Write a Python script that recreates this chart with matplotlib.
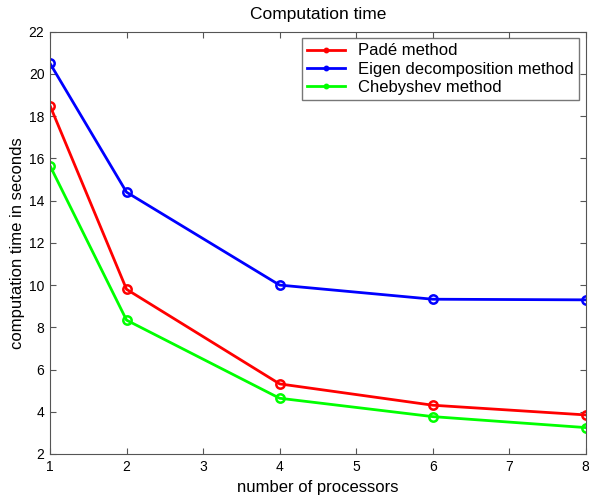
import matplotlib
matplotlib.use("Agg")
import matplotlib.pyplot as plt

plt.rcParams['font.family'] = ['Liberation Sans', 'DejaVu Sans']

procs = [1, 2, 4, 6, 8]
pade = [18.5, 9.8, 5.32, 4.31, 3.85]
eigen = [20.5, 14.4, 10.0, 9.33, 9.3]
cheb = [15.65, 8.34, 4.64, 3.77, 3.25]

series = [
    ("Padé method", pade, "#ff0000"),
    ("Eigen decomposition method", eigen, "#0000ff"),
    ("Chebyshev method", cheb, "#00ff00"),
]

fig = plt.figure(figsize=(5.89, 4.98), dpi=100)
ax = fig.add_axes([0.0849, 0.0884, 0.9095, 0.8479])

for label, vals, col in series:
    ax.plot(procs, vals, color=col, linewidth=2, marker='o', markersize=6,
            markerfacecolor='none', markeredgewidth=1.8, label=label)

ax.set_xlim(1, 8)
ax.set_ylim(2, 22)
ax.set_xticks(range(1, 9))
ax.set_yticks(range(2, 23, 2))
ax.tick_params(direction='in', top=True, right=True, labelsize=10, length=4,
               color='#555555', pad=4)
for s in ax.spines.values():
    s.set_color('#555555')

ax.set_title("Computation time", fontsize=12.5, pad=9)
ax.set_xlabel("number of processors", fontsize=12, labelpad=5)
ax.set_ylabel("computation time in seconds", fontsize=12, labelpad=3)

leg = ax.legend(loc='upper right', fontsize=12, frameon=True, fancybox=False,
                handlelength=2.3, markerscale=0.4, borderaxespad=0.4,
                borderpad=0.3, labelspacing=0.2, handletextpad=0.8)
leg.get_frame().set_edgecolor('#555555')
leg.get_frame().set_linewidth(1.0)

fig.savefig("out.png", dpi=100)
